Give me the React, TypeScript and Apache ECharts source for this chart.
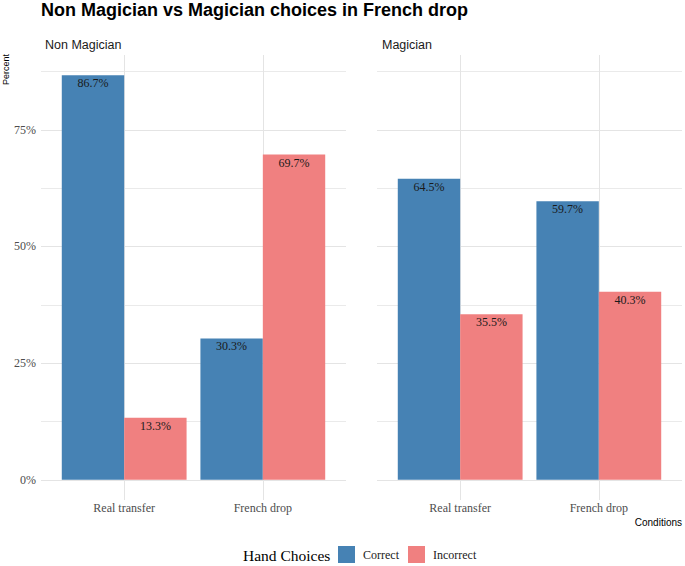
import React, { useEffect, useRef } from "react";
import * as echarts from "echarts";

const categories = ["Real transfer", "French drop"];
const panels = ["Non Magician", "Magician"];
const seriesNames = ["Correct", "Incorrect"];
const nonMagicianCorrect = [86.7, 30.3];
const nonMagicianIncorrect = [13.3, 69.7];
const magicianCorrect = [64.5, 59.7];
const magicianIncorrect = [35.5, 40.3];
const yTicks = [0, 25, 50, 75];
const yMinorTicks = [12.5, 37.5, 62.5, 87.5];

const COLORS = ["#4682B4", "#F08080"];
const SERIF = "'Liberation Serif', 'Times New Roman', serif";
const SANS = "'Liberation Sans', Arial, sans-serif";
const GRID_COLOR = "#e4e4e4";

export default function App() {
  const ref = useRef<HTMLDivElement>(null);

  useEffect(() => {
    document.body.style.margin = "0";
    if (!ref.current) return;
    const chart = echarts.init(ref.current, null, { renderer: "svg" });

    const allValues = [
      ...nonMagicianCorrect,
      ...nonMagicianIncorrect,
      ...magicianCorrect,
      ...magicianIncorrect,
    ];
    const maxV = Math.max(...allValues);
    const pad = maxV * 0.05;
    const yMin = -pad;
    const yMax = maxV + pad;
    const xPos = categories.map((_, i) => i + 1);

    const grids = [
      { left: 41, width: 305, top: 55, height: 445 },
      { left: 377, width: 305, top: 55, height: 445 },
    ];

    const xAxes = grids.map((_, gi) => ({
      type: "value",
      gridIndex: gi,
      min: 0.4,
      max: categories.length + 0.6,
      splitLine: { show: false },
      axisLine: { show: false },
      axisTick: { show: false },
      axisLabel: {
        customValues: xPos,
        formatter: (v: number) => categories[Math.round(v) - 1] ?? "",
        color: "#4d4d4d",
        fontFamily: SERIF,
        fontSize: 12,
        margin: 2,
      },
    }));

    const yAxes = grids.map((_, gi) => ({
      type: "value",
      gridIndex: gi,
      min: yMin,
      max: yMax,
      splitLine: { show: false },
      axisLine: { show: false },
      axisTick: { show: false },
      axisLabel: {
        show: gi === 0,
        customValues: yTicks,
        formatter: (v: number) => `${v}%`,
        color: "#4d4d4d",
        fontFamily: SERIF,
        fontSize: 12,
        margin: 5,
      },
    }));

    const panelData = [
      [nonMagicianCorrect, nonMagicianIncorrect],
      [magicianCorrect, magicianIncorrect],
    ];

    const series: any[] = [];
    grids.forEach((_, gi) => {
      series.push({
        type: "line",
        name: "grid" + gi,
        xAxisIndex: gi,
        yAxisIndex: gi,
        data: [],
        z: 0,
        silent: true,
        markLine: {
          silent: true,
          z: 0,
          symbol: "none",
          label: { show: false },
          animation: false,
          lineStyle: { color: GRID_COLOR, width: 1, type: "solid" },
          data: [
            ...yTicks.map((v) => ({ yAxis: v })),
            ...yMinorTicks.map((v) => ({ yAxis: v, lineStyle: { color: GRID_COLOR, width: 0.8, type: "solid" } })),
            ...xPos.map((v) => ({ xAxis: v })),
          ],
        },
      });
      panelData[gi].forEach((vals, si) => {
        series.push({
          type: "bar",
          name: seriesNames[si],
          xAxisIndex: gi,
          yAxisIndex: gi,
          data: vals.map((v, i) => [xPos[i], v]),
          barWidth: 62.4,
          barGap: "0%",
          z: 3,
          itemStyle: { color: COLORS[si] },
          label: {
            show: true,
            position: "insideTop",
            distance: 2,
            formatter: (p: any) => `${p.value[1].toFixed(1)}%`,
            color: "#1a1a1a",
            fontFamily: SERIF,
            fontSize: 12,
          },
        });
      });
    });

    chart.setOption({
      animation: false,
      backgroundColor: "#ffffff",
      title: [
        {
          text: "Non Magician vs Magician choices in French drop",
          left: 41,
          top: 1,
          padding: 0,
          textStyle: { fontFamily: SANS, fontSize: 18, fontWeight: "bold", color: "#000" },
        },
        {
          text: panels[0],
          left: 45,
          top: 38,
          padding: 0,
          textStyle: { fontFamily: SANS, fontSize: 12.5, fontWeight: "normal", color: "#1a1a1a" },
        },
        {
          text: panels[1],
          left: 382,
          top: 38,
          padding: 0,
          textStyle: { fontFamily: SANS, fontSize: 12.5, fontWeight: "normal", color: "#1a1a1a" },
        },
        {
          text: "Conditions",
          right: 3,
          top: 517,
          padding: 0,
          textStyle: { fontFamily: SANS, fontSize: 10, fontWeight: "normal", color: "#000" },
        },
        {
          text: "Hand Choices",
          left: 243,
          top: 547,
          padding: 0,
          textStyle: { fontFamily: SERIF, fontSize: 15.5, fontWeight: "normal", color: "#000" },
        },
      ],
      legend: {
        data: seriesNames,
        left: 338,
        top: 546,
        padding: 0,
        itemWidth: 17,
        itemHeight: 17,
        itemGap: 9,
        icon: "rect",
        selectedMode: false,
        textStyle: { fontFamily: SERIF, fontSize: 12, color: "#1a1a1a", padding: [0, 0, 0, 3] },
      },
      graphic: [
        {
          type: "text",
          x: 6,
          y: 54,
          rotation: Math.PI / 2,
          style: {
            text: "Percent",
            align: "right",
            verticalAlign: "middle",
            fontFamily: SANS,
            fontSize: 9,
            fill: "#000",
          },
        },
      ],
      grid: grids,
      xAxis: xAxes,
      yAxis: yAxes,
      series,
    });

    return () => chart.dispose();
  }, []);

  return <div ref={ref} style={{ width: 685, height: 566 }} />;
}
